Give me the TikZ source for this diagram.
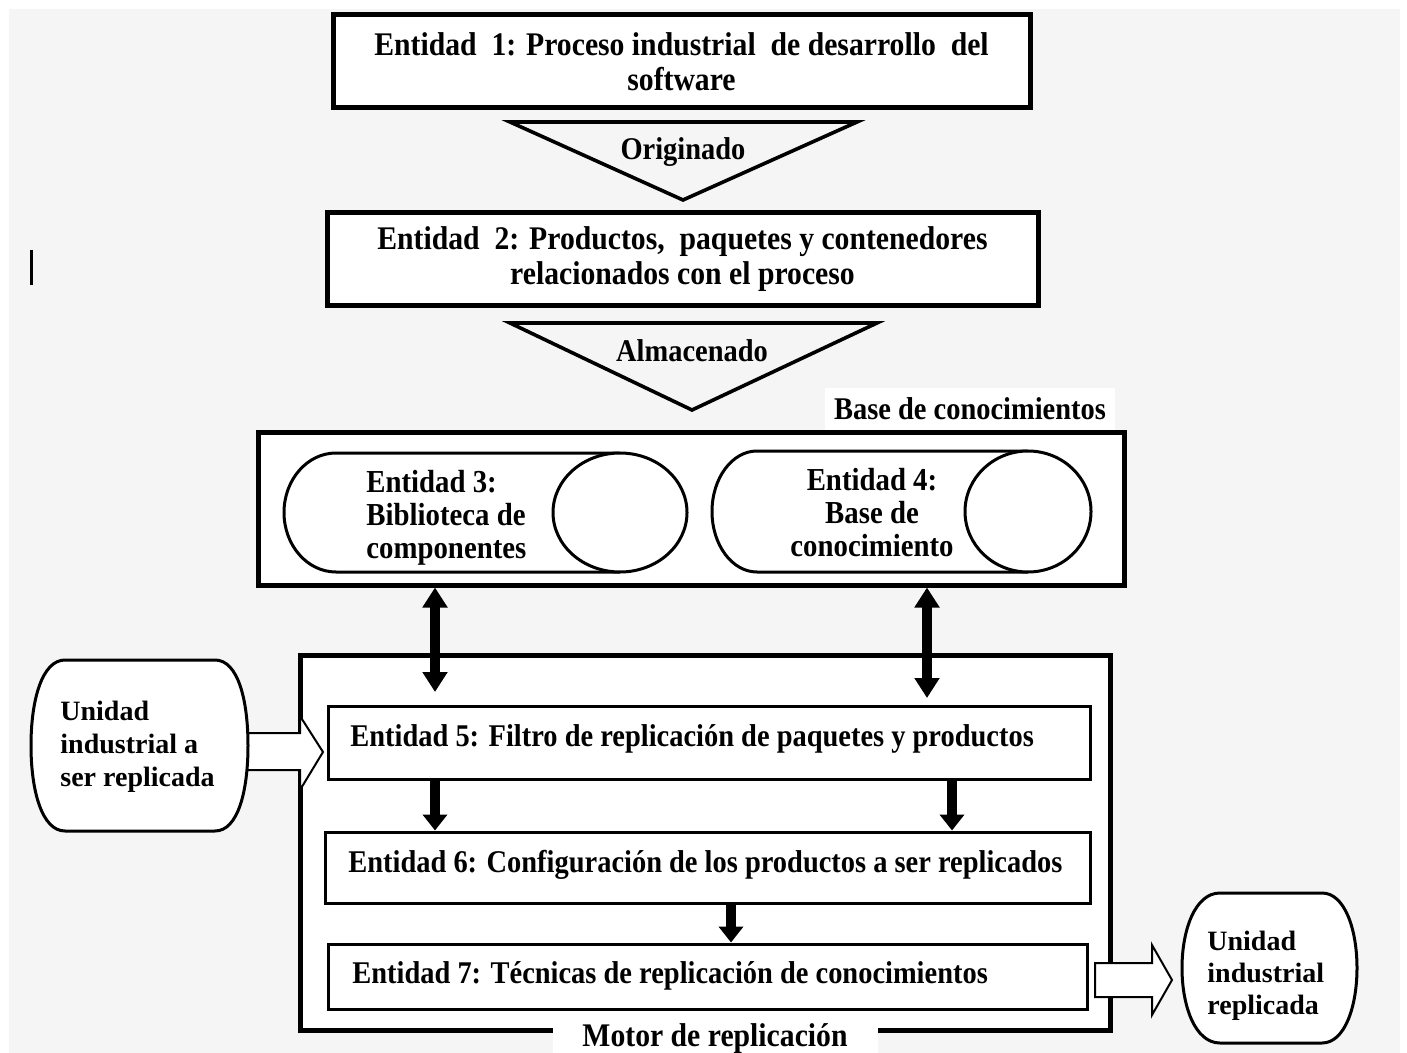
\documentclass[tikz,border=0pt]{standalone}
\usepackage{fontspec}
\setmainfont{Liberation Serif}
\newfontfamily\condf[FakeStretch=0.9]{Liberation Serif}
\usetikzlibrary{arrows.meta,calc}
\definecolor{bggray}{RGB}{245,245,245}
\begin{document}
\begin{tikzpicture}[x=0.5pt,y=-0.5pt,
  bigbox/.style={draw, line width=2.5pt, fill=white, inner sep=0pt},
  ebox/.style={draw, line width=1.5pt, fill=white, inner sep=0pt},
  ctext/.style={font=\condf\bfseries\fontsize{16.5}{17.5}\selectfont, align=center},
  etext/.style={font=\condf\bfseries\fontsize{15.8}{17}\selectfont, anchor=base west, inner sep=0pt},
  ltext/.style={font=\condf\bfseries\fontsize{15.8}{17}\selectfont, anchor=base, inner sep=0pt},
  labelbox/.style={fill=white, inner sep=0pt, font=\condf\bfseries\fontsize{15.8}{17}\selectfont},
  cytext/.style={font=\condf\bfseries\fontsize{16}{16.5}\selectfont, inner sep=0pt},
  otext/.style={font=\bfseries\fontsize{14}{16.5}\selectfont, align=left, anchor=west, inner sep=0pt},
  tri/.style={draw, line width=1.8pt},
  cyl/.style={draw, line width=1.5pt, fill=white},
  oval/.style={draw, line width=1.5pt, fill=white},
  blockarrow/.style={draw, line width=1pt, fill=white},
  dbl/.style={line width=5pt, {Triangle[width=12pt,length=10pt]}-{Triangle[width=12pt,length=10pt]}},
  sgl/.style={line width=5pt, -{Triangle[width=12pt,length=8pt]}}
]
\useasboundingbox (0,0) rectangle (1407,1053);
\fill[white] (0,0) rectangle (1407,1053);
\fill[bggray] (9,9) rectangle (1400,1053);

% stray bar
\draw[line width=1.5pt] (31,250) -- (31,285);

% Entity 1
\node[bigbox, ctext, minimum width=348.5pt, minimum height=46.5pt] (b1) at (681.5,61.5)
  {Entidad\ \ 1: Proceso industrial\ \ de desarrollo\ \ del\\software};
% Originado
\draw[tri] (510,122) -- (857,122) -- (683,200) -- cycle;
\node[ltext] (t1) at (683,160) {Originado};
% Entity 2
\node[bigbox, ctext, minimum width=355.5pt, minimum height=46.5pt] (b2) at (682.5,259.5)
  {Entidad\ \ 2: Productos,\ \ paquetes y contenedores\\relacionados con el proceso};
% Almacenado
\draw[tri] (510,323) -- (877,323) -- (692,410) -- cycle;
\node[ltext] (t2) at (692,362) {Almacenado};

% Base de conocimientos
\node[labelbox, minimum width=145pt, minimum height=21pt] (kbl) at (970,409) {Base de conocimientos};
\node[bigbox, minimum width=433pt, minimum height=76.5pt] (kb) at (691,508.5) {};

% cylinder 3
\draw[cyl] (620,453) -- (336,453) arc[start angle=90, end angle=270, x radius=26pt, y radius=29.75pt] -- (620,572);
\draw[cyl] (620,512.5) ellipse [x radius=33.5pt, y radius=29.75pt];
\node[cytext, anchor=west, align=left] (e3) at (366,517.5) {Entidad 3:\\Biblioteca de\\componentes};
% cylinder 4
\draw[cyl] (1028,451) -- (757,451) arc[start angle=90, end angle=270, x radius=22.5pt, y radius=30.25pt] -- (1028,572);
\draw[cyl] (1028,511.5) ellipse [x radius=31.5pt, y radius=30.25pt];
\node[cytext, align=center] (e4) at (872,513) {Entidad 4:\\Base de\\conocimiento};

% Motor de replicacion
\node[bigbox, minimum width=405pt, minimum height=187.5pt] (mr) at (705,842.5) {};
\node[ebox, minimum width=381pt, minimum height=36.5pt] (e5) at (709,742.5) {};
\node[etext] (e5t) at (350,746) {Entidad 5: Filtro de replicación de paquetes y productos};
\node[ebox, minimum width=382.5pt, minimum height=35.5pt] (e6) at (707.5,867.5) {};
\node[etext] (e6t) at (348,872) {Entidad 6: Configuración de los productos a ser replicados};
\node[ebox, minimum width=379.5pt, minimum height=32.5pt] (e7) at (707.5,976.5) {};
\node[etext] (e7t) at (352,983) {Entidad 7: Técnicas de replicación de conocimientos};

% arrows
\coordinate (xa) at (435,0);
\coordinate (xb) at (927,0);
\coordinate (xc) at (952,0);
\coordinate (xd) at (731,0);
\draw[dbl] (kb.south -| xa) -- ($(e5.north -| xa)+(0,-12.5)$);
\draw[dbl] (kb.south -| xb) -- ($(e5.north -| xb)+(0,-6.5)$);
\draw[sgl] (e5.south -| xa) -- (e6.north -| xa);
\draw[sgl] (e5.south -| xc) -- (e6.north -| xc);
\draw[sgl] (e6.south -| xd) -- (e7.north -| xd);

% block arrows
\draw[blockarrow] (240,733) -- (300,733) -- (300,716) -- (323,752) -- (300,790) -- (300,770) -- (240,770) -- cycle;
\draw[blockarrow] (1095,963) -- (1152,963) -- (1152,945) -- (1172,980) -- (1152,1015) -- (1152,997) -- (1095,997) -- cycle;

% ovals
\draw[oval] (65,660) -- (215,660) .. controls (238,660) and (248,700) .. (248,745.5)
  .. controls (248,791) and (238,831) .. (215,831) -- (65,831)
  .. controls (42,831) and (31,791) .. (31,745.5) .. controls (31,700) and (42,660) .. (65,660) -- cycle;
\node[otext] (u1) at (60,746.5) {Unidad\\industrial a\\ser replicada};
\draw[oval] (1220,893) -- (1322,893) .. controls (1345,893) and (1357,930) .. (1357,968)
  .. controls (1357,1006) and (1345,1043) .. (1322,1043) -- (1220,1043)
  .. controls (1195,1043) and (1182,1006) .. (1182,968) .. controls (1182,930) and (1195,893) .. (1220,893) -- cycle;
\node[otext, font=\bfseries\fontsize{14}{16}\selectfont] (u2) at (1207,975.5) {Unidad\\industrial\\replicada};

% motor label
\node[labelbox, minimum width=162.5pt, minimum height=18pt, font=\condf\bfseries\fontsize{16.5}{17}\selectfont] (mrl) at (715,1039) {Motor de replicación};
\end{tikzpicture}
\end{document}
